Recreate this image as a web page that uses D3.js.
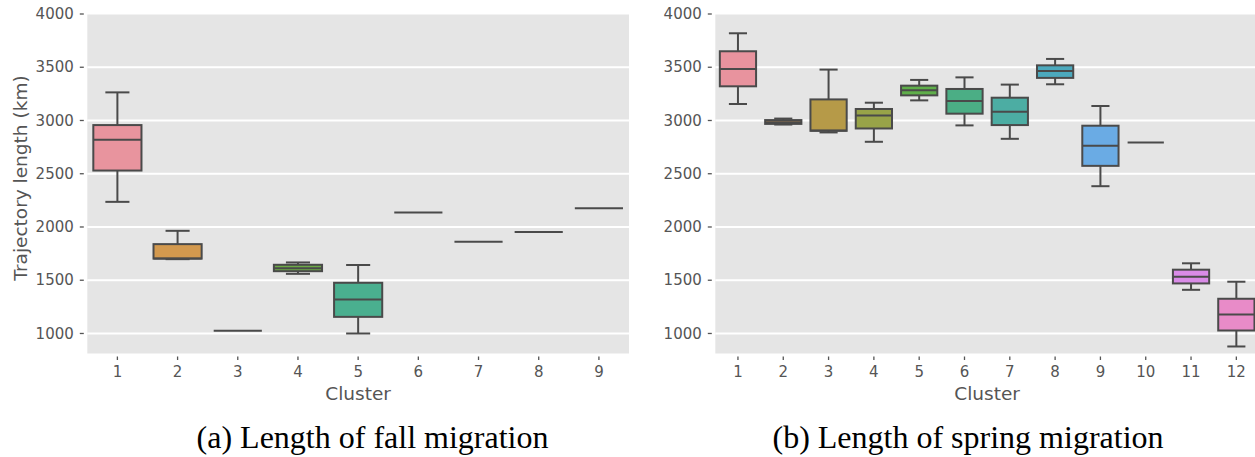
<!DOCTYPE html>
<html>
<head>
<meta charset="utf-8">
<script src="https://cdn.jsdelivr.net/npm/d3@7/dist/d3.min.js"></script>
<style>
  body { margin: 0; background: #fff; }
  svg { display: block; }
  text { font-family: "DejaVu Sans", sans-serif; }
  .caption { font-family: "Liberation Serif", "Times New Roman", serif; fill: #000; }
</style>
</head>
<body>
<svg id="chart" width="1255" height="457"></svg>
<script>
// tick values shared by both panels
var yTicks = [1000, 1500, 2000, 2500, 3000, 3500, 4000];

// (a) fall migration, five-number summaries per cluster
var fallClusters = ['1', '2', '3', '4', '5', '6', '7', '8', '9'];
var fallLow  = [2236, 1698, 1025, 1560, 1000, 2135, 1862, 1953, 2176];
var fallQ1   = [2530, 1703, 1025, 1585, 1156, 2135, 1862, 1953, 2176];
var fallMed  = [2819, 1705, 1025, 1613, 1320, 2135, 1862, 1953, 2176];
var fallQ3   = [2957, 1839, 1025, 1645, 1476, 2135, 1862, 1953, 2176];
var fallHigh = [3264, 1964, 1025, 1667, 1643, 2135, 1862, 1953, 2176];
var fallColors = ['#e8949e', '#d3994e', '#a9a145', '#6caa46', '#4aaf8f',
                  '#4aabb5', '#6aa6e2', '#b393e6', '#e68ccb'];

// (b) spring migration
var springClusters = ['1', '2', '3', '4', '5', '6', '7', '8', '9', '10', '11', '12'];
var springLow  = [3155, 2962, 2888, 2800, 3189, 2954, 2828, 3340, 2383, 2794, 1410, 878];
var springQ1   = [3321, 2968, 2903, 2925, 3236, 3064, 2957, 3400, 2574, 2794, 1470, 1028];
var springMed  = [3484, 2983, 2906, 3048, 3283, 3183, 3083, 3465, 2763, 2794, 1533, 1179];
var springQ3   = [3650, 3004, 3198, 3108, 3327, 3296, 3214, 3518, 2951, 2794, 1599, 1326];
var springHigh = [3819, 3018, 3478, 3167, 3381, 3405, 3337, 3578, 3136, 2794, 1659, 1486];
var springColors = ['#e8939e', '#d39a55', '#b69a48', '#98a348', '#5fae4a', '#4bae85',
                    '#4cada3', '#4ca9bd', '#6aabe4', '#a596e6', '#d98be7', '#e88bc8'];

var svg = d3.select('#chart');

var plotTop = 14, plotBottom = 353.5;
var lineColor = '#4a4a4a';

var y = d3.scaleLinear()
    .domain([812, 4000])
    .range([plotBottom, plotTop]);

function zip(cats, low, q1, med, q3, high, colors) {
  return cats.map(function (c, i) {
    return { key: c, low: low[i], q1: q1[i], med: med[i], q3: q3[i], high: high[i], color: colors[i] };
  });
}

function panel(left, right, data, caption, captionX, withLabel) {

  var g = svg.append('g');

  var x = d3.scaleBand()
      .domain(data.map(function (d) { return d.key; }))
      .range([left, right])
      .padding(0);

  g.append('rect')
      .attr('x', left)
      .attr('y', plotTop + 0.5)
      .attr('width', right - left)
      .attr('height', plotBottom - plotTop - 0.5)
      .attr('fill', '#e5e5e5');

  // grid
  g.selectAll('.grid')
      .data(yTicks.filter(function (t) { return t < 4000; }))
      .enter()
    .append('line')
      .attr('x1', left)
      .attr('x2', right)
      .attr('y1', function (d) { return y(d); })
      .attr('y2', function (d) { return y(d); })
      .attr('stroke', '#fff')
      .attr('stroke-width', 1.8);

  // y ticks
  var yt = g.selectAll('.yt')
      .data(yTicks)
      .enter()
    .append('g')
      .attr('transform', function (d) { return 'translate(0,' + y(d) + ')'; });

  yt.append('line')
      .attr('x1', left - 7.5)
      .attr('x2', left - 3.5)
      .attr('stroke', '#555')
      .attr('stroke-width', 1.3);

  yt.append('text')
      .attr('x', left - 13.5)
      .attr('dy', '0.35em')
      .attr('text-anchor', 'end')
      .attr('font-size', 15)
      .attr('fill', '#555')
      .text(function (d) { return d; });

  // x ticks
  var xt = g.selectAll('.xt')
      .data(data)
      .enter()
    .append('g')
      .attr('transform', function (d) { return 'translate(' + (x(d.key) + x.bandwidth() / 2) + ',0)'; });

  xt.append('line')
      .attr('y1', plotBottom + 3)
      .attr('y2', plotBottom + 6.5)
      .attr('stroke', '#555')
      .attr('stroke-width', 1.3);

  xt.append('text')
      .attr('y', 377)
      .attr('text-anchor', 'middle')
      .attr('font-size', 15)
      .attr('fill', '#555')
      .text(function (d) { return d.key; });

  g.append('text')
      .attr('x', (left + right) / 2)
      .attr('y', 400)
      .attr('text-anchor', 'middle')
      .attr('font-size', 18.5)
      .attr('fill', '#555')
      .text('Cluster');

  if (withLabel) {
    g.append('text')
        .attr('transform', 'translate(27,178) rotate(-90)')
        .attr('text-anchor', 'middle')
        .attr('font-size', 18.5)
        .attr('fill', '#555')
        .text('Trajectory length (km)');
  }

  // boxes
  var bw = x.bandwidth() * 0.8;

  var box = g.selectAll('.box')
      .data(data)
      .enter()
    .append('g')
      .attr('transform', function (d) { return 'translate(' + (x(d.key) + x.bandwidth() / 2) + ',0)'; });

  box.append('line')
      .attr('y1', function (d) { return y(d.high); })
      .attr('y2', function (d) { return y(d.q3); })
      .attr('stroke', lineColor)
      .attr('stroke-width', 2);

  box.append('line')
      .attr('y1', function (d) { return y(d.low); })
      .attr('y2', function (d) { return y(d.q1); })
      .attr('stroke', lineColor)
      .attr('stroke-width', 2);

  box.selectAll('.cap')
      .data(function (d) { return d.high > d.low ? [d.high, d.low] : []; })
      .enter()
    .append('line')
      .attr('x1', -bw / 4)
      .attr('x2', bw / 4)
      .attr('y1', function (v) { return y(v); })
      .attr('y2', function (v) { return y(v); })
      .attr('stroke', lineColor)
      .attr('stroke-width', 2);

  box.append('rect')
      .attr('x', -bw / 2)
      .attr('width', bw)
      .attr('y', function (d) { return y(d.q3); })
      .attr('height', function (d) { return y(d.q1) - y(d.q3); })
      .attr('fill', function (d) { return d.color; })
      .attr('stroke', lineColor)
      .attr('stroke-width', 2);

  box.append('line')
      .attr('x1', -bw / 2)
      .attr('x2', bw / 2)
      .attr('y1', function (d) { return y(d.med); })
      .attr('y2', function (d) { return y(d.med); })
      .attr('stroke', lineColor)
      .attr('stroke-width', 2);

  svg.append('text')
      .attr('class', 'caption')
      .attr('x', captionX)
      .attr('y', 448)
      .attr('text-anchor', 'middle')
      .attr('font-size', 32)
      .text(caption);
}

panel(87.3, 629, zip(fallClusters, fallLow, fallQ1, fallMed, fallQ3, fallHigh, fallColors),
  '(a) Length of fall migration', 372.5, true);

panel(715.3, 1259, zip(springClusters, springLow, springQ1, springMed, springQ3, springHigh, springColors),
  '(b) Length of spring migration', 968, false);
</script>
</body>
</html>
